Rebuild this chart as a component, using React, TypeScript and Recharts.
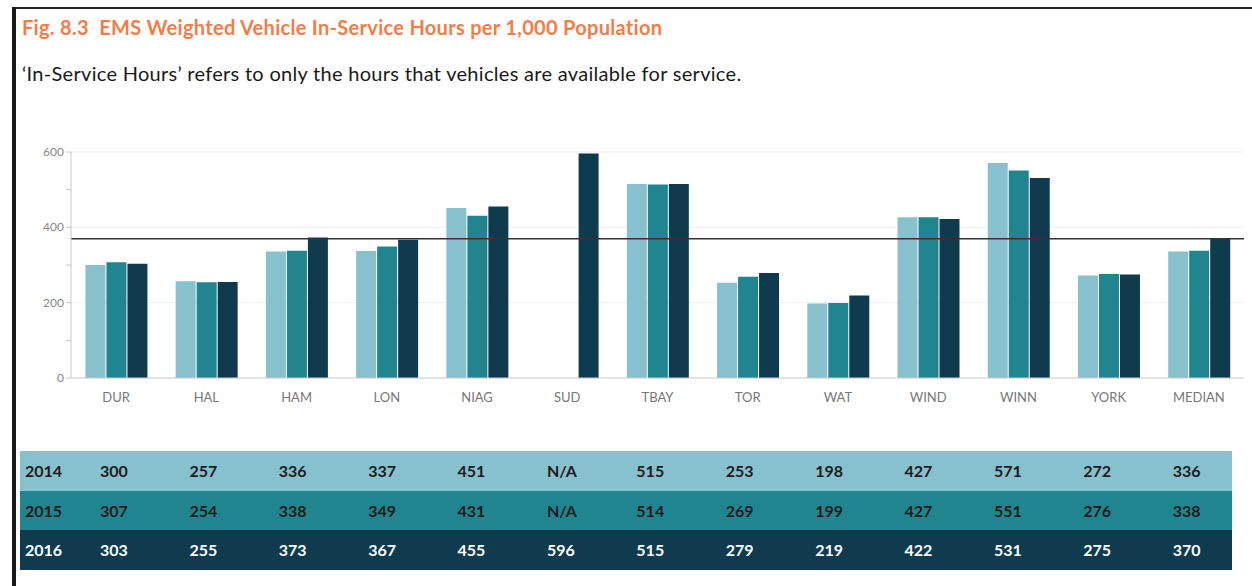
import React from "react";
import { BarChart, Bar, XAxis, YAxis, CartesianGrid, ReferenceLine } from "recharts";

const services = ["DUR", "HAL", "HAM", "LON", "NIAG", "SUD", "TBAY", "TOR", "WAT", "WIND", "WINN", "YORK", "MEDIAN"];
const hours2014 = [300, 257, 336, 337, 451, null, 515, 253, 198, 427, 571, 272, 336];
const hours2015 = [307, 254, 338, 349, 431, null, 514, 269, 199, 427, 551, 276, 338];
const hours2016 = [303, 255, 373, 367, 455, 596, 515, 279, 219, 422, 531, 275, 370];
const yTicks = [0, 100, 200, 300, 400, 500, 600];
const gridLines = [200, 400, 600];
const medianLine = 370;

const years = [
  { label: "2014", values: hours2014, bg: "#87c1cd", text: "#1b1b1b" },
  { label: "2015", values: hours2015, bg: "#21858f", text: "#1b1b1b" },
  { label: "2016", values: hours2016, bg: "#103b4f", text: "#ffffff" },
];

const chartData = services.map((s, i) => ({
  name: s,
  y2014: hours2014[i],
  y2015: hours2015[i],
  y2016: hours2016[i],
}));

// only every second tick gets a label, the rest are just small marks
function YTick(props: any) {
  const { x, y, payload } = props;
  if (payload.value % 200 !== 0) return null;
  return (
    <text x={x} y={y} dy={4} textAnchor="end" fontSize={12} fill="#888" fontFamily="Lato, sans-serif">
      {payload.value}
    </text>
  );
}

export default function App() {
  return (
    <div style={{ position: "absolute", left: 0, top: 0, width: 1252, height: 586, background: "#fff", overflow: "hidden", fontFamily: "Lato, sans-serif" }}>
      {/* frame */}
      <div style={{ position: "absolute", left: 12, top: 7, right: 0, height: 2, background: "#222" }} />
      <div style={{ position: "absolute", left: 12, top: 7, width: 4, bottom: 0, background: "#1a1a1a" }} />

      <div style={{ position: "absolute", left: 22, top: 15, fontSize: 20, letterSpacing: 0.3, fontWeight: 700, color: "#f47c48", whiteSpace: "nowrap" }}>
        Fig. 8.3&nbsp;&nbsp;EMS Weighted Vehicle In-Service Hours per 1,000 Population
      </div>
      <div style={{ position: "absolute", left: 22, top: 61, fontSize: 20, letterSpacing: 0.3, color: "#1a1a1a", whiteSpace: "nowrap" }}>
        ‘In-Service Hours’ refers to only the hours that vehicles are available for service.
      </div>

      <div style={{ position: "absolute", left: 0, top: 130 }}>
        <BarChart
          width={1252}
          height={282}
          data={chartData}
          margin={{ top: 22, right: 8, bottom: 0, left: 0 }}
          barCategoryGap="16%"
          barGap={1}
        >
          <CartesianGrid vertical={false} horizontalValues={gridLines} stroke="#eeeeee" />
          <XAxis
            dataKey="name"
            tickLine={false}
            axisLine={{ stroke: "#c8c8c8" }}
            tick={{ fontSize: 13, fill: "#777", fontFamily: "Lato, sans-serif" }}
            tickMargin={9}
            height={34}
          />
          <YAxis
            width={71}
            domain={[0, 600]}
            ticks={yTicks}
            interval={0}
            axisLine={{ stroke: "#c8c8c8" }}
            tickLine={{ stroke: "#c8c8c8" }}
            tickSize={5}
            tick={<YTick />}
          />
          <Bar dataKey="y2014" fill="#87c1cd" isAnimationActive={false} />
          <Bar dataKey="y2015" fill="#21858f" isAnimationActive={false} />
          <Bar dataKey="y2016" fill="#103b4f" isAnimationActive={false} />
          <ReferenceLine y={medianLine} stroke="#333" strokeWidth={1.5} />
        </BarChart>
      </div>

      <div style={{ position: "absolute", left: 20, top: 451, width: 1212 }}>
        {years.map((yr) => (
          <div
            key={yr.label}
            style={{
              display: "grid",
              gridTemplateColumns: "80px repeat(12, 89.4px) 1fr",
              height: 39.6,
              alignItems: "center",
              background: yr.bg,
              color: yr.text,
              fontSize: 16,
              fontWeight: 700,
            }}
          >
            <span style={{ paddingLeft: 5 }}>{yr.label}</span>
            {yr.values.map((v, i) => (
              <span key={i}>{v === null ? "N/A" : v}</span>
            ))}
          </div>
        ))}
      </div>
    </div>
  );
}
